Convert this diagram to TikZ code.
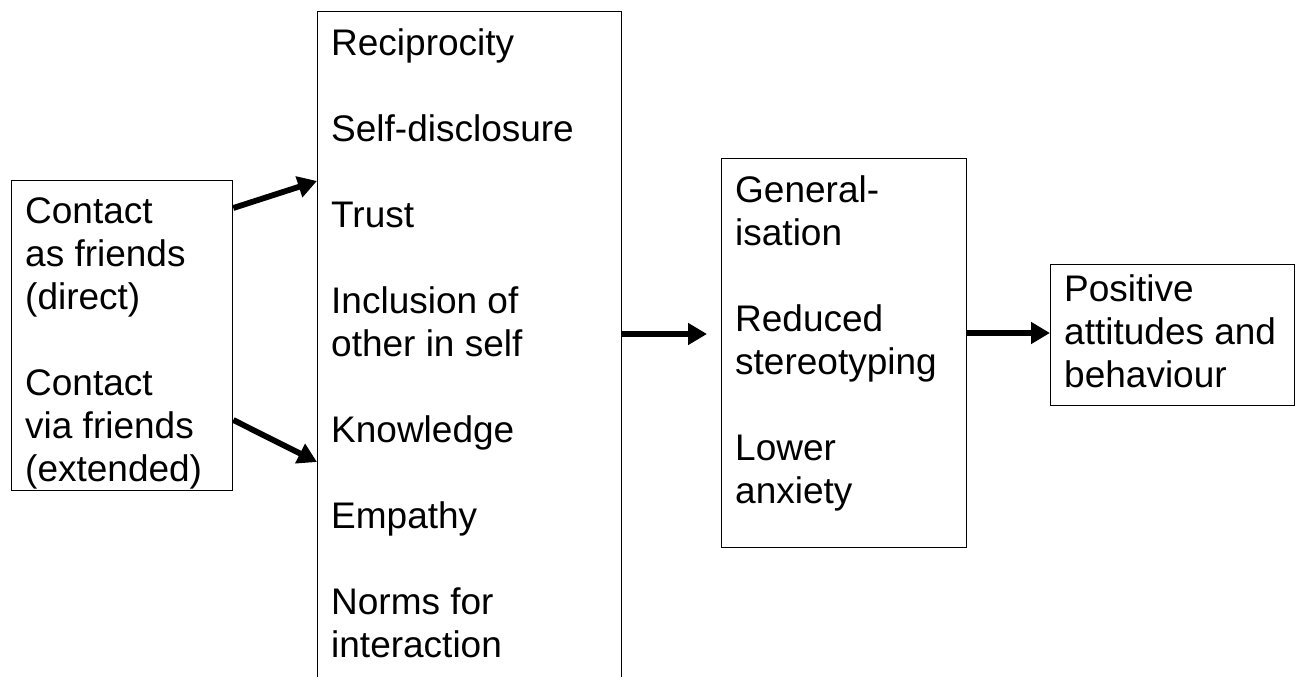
\documentclass[tikz,border=0pt]{standalone}
\usepackage{fontspec}
\setmainfont{Liberation Sans}
\usetikzlibrary{arrows.meta,positioning}

\begin{document}
\begin{tikzpicture}[x=1pt,y=1pt,
  box/.style={draw,line width=1.3pt,anchor=north west,inner sep=0pt},
  txt/.style={anchor=north west,inner sep=0pt,align=left,font=\fontsize{37}{43}\selectfont},
  flow/.style={line width=5.8pt,-{Triangle[length=19pt,width=21pt]}}]
\useasboundingbox (0,0) rectangle (1301,-677);
\clip (0,0) rectangle (1301,-677);
% boxes
\node[box,minimum width=221pt,minimum height=310pt] (friends) at (11,-180) {};
\node[box,minimum width=304pt,minimum height=700pt] (processes) at (317,-11) {};
\node[box,minimum width=245pt,minimum height=389pt] (mediators) at (721,-158) {};
\node[box,minimum width=244pt,minimum height=141pt] (outcome) at (1050,-264) {};
% texts
\node[txt] (friendstext) at ([xshift=14pt,yshift=-17pt]friends.north west)
  {Contact\\as friends\\(direct)\\[43pt]Contact\\via friends\\(extended)};
\node[txt] (processtext) at ([xshift=14pt,yshift=-17pt]processes.north west)
  {Reciprocity\\[43pt]Self-disclosure\\[43pt]Trust\\[43pt]Inclusion of\\other in self\\[43pt]Knowledge\\[43pt]Empathy\\[43pt]Norms for\\interaction};
\node[txt] (mediatortext) at ([xshift=14pt,yshift=-17pt]mediators.north west)
  {General-\\isation\\[43pt]Reduced\\stereotyping\\[43pt]Lower\\anxiety};
\node[txt] (outcometext) at ([xshift=14pt,yshift=-10pt]outcome.north west)
  {Positive\\attitudes and\\behaviour};
% arrows
\draw[flow] ([yshift=-28pt]friends.north east) -- ([yshift=-170pt]processes.north west);
\draw[flow] ([yshift=-240pt]friends.north east) -- ([yshift=-451pt]processes.north west);
\draw[flow] ([yshift=-323pt]processes.north east) -- ([xshift=-14pt,yshift=-176pt]mediators.north west);
\draw[flow] ([yshift=-175pt]mediators.north east) -- ([yshift=-69pt]outcome.north west);
\end{tikzpicture}
\end{document}
